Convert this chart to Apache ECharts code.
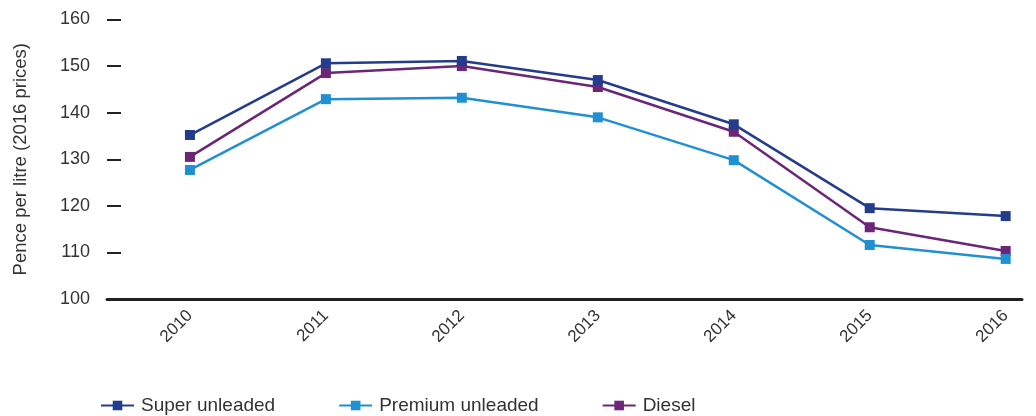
<!DOCTYPE html>
<html>
<head>
<meta charset="utf-8">
<script src="https://cdn.jsdelivr.net/npm/echarts@6/dist/echarts.min.js"></script>
<style>
  html, body { margin: 0; padding: 0; background: #fff; }
  #chart { width: 1036px; height: 416px; }
</style>
</head>
<body>
<div id="chart"></div>
<script>
// Pump prices, pence per litre (2016 prices)
const years = [2010, 2011, 2012, 2013, 2014, 2015, 2016];
const superUnleaded = [135.2, 150.6, 151.1, 147.0, 137.5, 119.5, 117.8];
const premiumUnleaded = [127.7, 142.9, 143.2, 139.0, 129.8, 111.6, 108.6];
const diesel = [130.5, 148.5, 150.0, 145.5, 135.9, 115.4, 110.3];
const yTicks = [100, 110, 120, 130, 140, 150, 160];

const FONT = 'Liberation Sans, Arial, sans-serif';
const TEXT = '#333333';

const pairs = vals => years.map((y, i) => [y, vals[i]]);

function lineSeries(name, color, vals) {
  return {
    name: name,
    type: 'line',
    data: pairs(vals),
    symbol: 'rect',
    symbolSize: 10,
    lineStyle: { color: color, width: 2.5 },
    itemStyle: { color: color },
    emphasis: { disabled: true }
  };
}

const chart = echarts.init(document.getElementById('chart'), null, { renderer: 'canvas' });
chart.setOption({
  animation: false,
  backgroundColor: '#ffffff',
  grid: { left: 107, right: 14, top: 19.5, bottom: 117, containLabel: false },
  legend: {
    data: ['Super unleaded', 'Premium unleaded', 'Diesel'],
    left: 100,
    top: 396,
    padding: 0,
    itemWidth: 33,
    itemHeight: 12,
    itemGap: 63,
    textStyle: { fontFamily: FONT, fontSize: 19, color: TEXT, padding: [0, 0, 0, 2] }
  },
  xAxis: {
    type: 'value',
    min: 2009.39,
    max: 2016.12,
    splitLine: { show: false },
    axisLine: { show: true, onZero: false, lineStyle: { color: '#222222', width: 3 } },
    axisTick: { show: false },
    axisLabel: {
      customValues: years,
      rotate: 45,
      margin: 14,
      fontFamily: FONT,
      fontSize: 17,
      color: TEXT,
      formatter: v => String(Math.round(v))
    }
  },
  yAxis: {
    type: 'value',
    min: yTicks[0],
    max: yTicks[yTicks.length - 1],
    interval: 10,
    name: 'Pence per litre (2016 prices)',
    nameLocation: 'middle',
    nameGap: 77,
    nameTextStyle: { fontFamily: FONT, fontSize: 18.5, color: TEXT },
    splitLine: { show: false },
    axisLine: { show: false },
    axisTick: { show: true, inside: true, length: 14, lineStyle: { color: '#222222', width: 2 } },
    axisLabel: { margin: 17, fontFamily: FONT, fontSize: 18, color: TEXT }
  },
  series: [
    lineSeries('Diesel', '#6b2677', diesel),
    lineSeries('Premium unleaded', '#2190d3', premiumUnleaded),
    lineSeries('Super unleaded', '#243c8c', superUnleaded)
  ]
});
</script>
</body>
</html>
